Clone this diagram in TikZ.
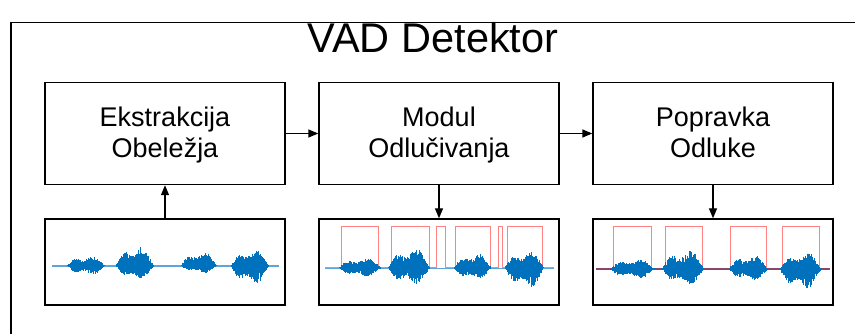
\documentclass[tikz,border=0pt]{standalone}
\usepackage{fontspec}
\setmainfont{Liberation Sans}
\usetikzlibrary{arrows.meta}
\definecolor{wblue}{RGB}{0,114,189}
\definecolor{lblue}{RGB}{95,165,218}
\definecolor{lred}{RGB}{255,130,130}
\definecolor{pbase}{RGB}{140,70,110}
\newcommand\vburst[5]{%
  \foreach \i in {1,...,119}{%
    \pgfmathsetmacro\tq{\i/120}%
    \pgfmathsetmacro\xq{#1+(#2-#1)*\tq}%
    \pgfmathsetmacro\env{(abs(sin(180*\tq)))^0.85*(0.75+0.25*sin(560*\tq+30))}%
    \pgfmathsetmacro\yu{#3-#4*\env*(0.4+0.6*rnd)}%
    \pgfmathsetmacro\yd{#3+#5*\env*(0.4+0.6*rnd)}%
    \draw[wave] (\xq,\yu) -- (\xq,\yd);
  }}
\newcommand\lnstrut{\rule[-7.5pt]{0pt}{32pt}}
\begin{document}
\begin{tikzpicture}[x=1pt,y=-1pt,
  blockbox/.style={draw=black,line width=1.4pt,minimum width=240pt,minimum height=102pt,inner sep=0pt,align=center,font=\fontsize{27}{32}\selectfont},
  plotbox/.style={draw=black,line width=1.4pt,minimum width=240pt,minimum height=86pt,inner sep=0pt},
  conn/.style={line width=1.4pt,-{Triangle[length=10pt,width=8pt]}},
  wave/.style={wblue,line width=0.5pt},
  base/.style={lblue,line width=1.8pt},
  vadline/.style={lred,line width=0.8pt}]
\useasboundingbox (0,0) rectangle (855,334);
\pgfmathsetseed{7}
% outer frame
\draw[line width=1.4pt] (11,340) -- (11,22.5) -- (862,22.5);
\node[anchor=base,font=\fontsize{41.5}{50}\selectfont] (title) at (433,53) {VAD Detektor};
% blocks
\node[blockbox] (b1) at (165,133.5) {\lnstrut Ekstrakcija\\\lnstrut Obeležja};
\node[blockbox] (b2) at (439,133.5) {\lnstrut Modul\\\lnstrut Odlučivanja};
\node[blockbox] (b3) at (713,133.5) {\lnstrut Popravka\\\lnstrut Odluke};
\node[plotbox] (p1) at (165,262) {};
\node[plotbox] (p2) at (439,262) {};
\node[plotbox] (p3) at (713,262) {};
\draw[conn] (b1) -- (b2);
\draw[conn] (b2) -- (b3);
\draw[conn] (p1) -- (b1);
\draw[conn] (b2) -- (p2);
\draw[conn] (b3) -- (p3);
% plot 1
\draw[base] (52,265.7) -- (279,265.7);
\vburst{67}{105}{265.7}{12}{11}
\vburst{116}{154}{265.7}{23}{17}
\vburst{181}{217}{265.7}{17}{9}
\vburst{231}{269}{265.7}{19}{22}
% plot 2
\draw[base,line width=1.2pt] (325,268.3) -- (554,268.3);
\draw[vadline] (325,267.3) -- (341.7,267.3) -- (341.7,226) -- (378.3,226) -- (378.3,267.3)
  -- (391.7,267.3) -- (391.7,226) -- (429.3,226) -- (429.3,267.3)
  -- (436.7,267.3) -- (436.7,226) -- (445,226) -- (445,267.3)
  -- (455.7,267.3) -- (455.7,226) -- (490,226) -- (490,267.3)
  -- (498.3,267.3) -- (498.3,226) -- (502.3,226) -- (502.3,267.3)
  -- (507.7,267.3) -- (507.7,226) -- (542.7,226) -- (542.7,267.3) -- (554,267.3);
\vburst{339}{381}{267.7}{12}{11}
\vburst{388}{430}{267.7}{23}{20}
\vburst{454}{491}{267.7}{17}{14}
\vburst{505}{544}{267.7}{20}{24}
% plot 3
\draw[pbase,line width=1.2pt] (596,269) -- (830,269);
\draw[vadline] (613.3,269) -- (613.3,226) -- (651.7,226) -- (651.7,269);
\draw[vadline] (665,269) -- (665,226) -- (702.7,226) -- (702.7,269);
\draw[vadline] (730,269) -- (730,226) -- (766,226) -- (766,269);
\draw[vadline] (782.7,269) -- (782.7,226) -- (819,226) -- (819,269);
\vburst{610}{655}{269}{12}{11}
\vburst{662}{704}{269}{23}{19}
\vburst{729}{768}{269}{17}{14}
\vburst{780}{821}{269}{20}{24}
\end{tikzpicture}
\end{document}
